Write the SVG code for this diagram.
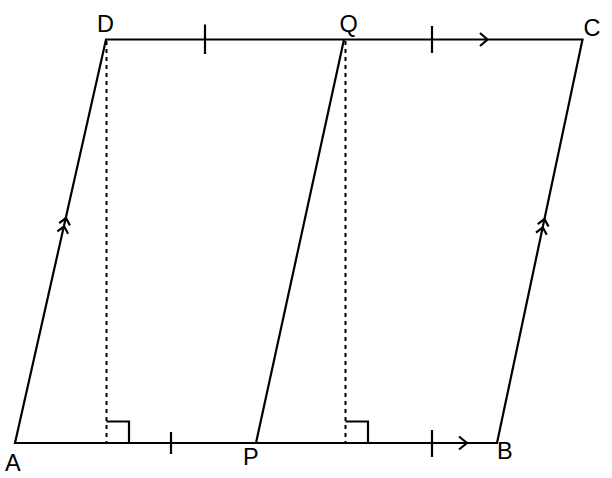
<svg xmlns="http://www.w3.org/2000/svg" width="612" height="478" viewBox="0 0 612 478">
<style>
.ln{stroke:#000;stroke-width:2.2;fill:none;stroke-linecap:butt;stroke-linejoin:miter}
.ds{stroke:#000;stroke-width:2;fill:none;stroke-dasharray:4 4}
.lb{font-family:"Liberation Sans",Arial,sans-serif;font-size:23.5px;fill:#000}
</style>
<g id="connectors">
<path class="ln" d="M15,443 L497,443 L582.5,39.5 L106,39.5 Z"/>
<line id="PQ" class="ln" x1="256" y1="443" x2="344" y2="39.5"/>
<line class="ds" x1="106.5" y1="41" x2="106.5" y2="443"/>
<line class="ds" x1="345.5" y1="41" x2="345.5" y2="443"/>
<path class="ln" d="M106.5,421.5 L129,421.5 L129,443"/>
<path class="ln" d="M345.5,421.5 L368,421.5 L368,443"/>
<line class="ln" x1="171" y1="432" x2="171" y2="454"/>
<line class="ln" x1="432" y1="430" x2="432" y2="457"/>
<line class="ln" x1="205" y1="24.5" x2="205" y2="54"/>
<line class="ln" x1="432" y1="26" x2="432" y2="53"/>
<path class="ln" d="M459,436.5 L467,443 L459,449.5"/>
<path class="ln" d="M480,33 L487.5,39.5 L480,46"/>
<g transform="translate(66,218) rotate(12.7)"><path class="ln" d="M-5.5,6.5 L0,0 L5.5,6.5 M-5.5,15 L0,8.5 L5.5,15"/></g>
<g transform="translate(544.5,219) rotate(12)"><path class="ln" d="M-5.5,6.5 L0,0 L5.5,6.5 M-5.5,15 L0,8.5 L5.5,15"/></g>
</g>
<g id="A"><text class="lb" x="5" y="470.5">A</text></g>
<g id="P"><text class="lb" x="243" y="465">P</text></g>
<g id="B"><text class="lb" x="497" y="459">B</text></g>
<g id="D"><text class="lb" x="97" y="31.5">D</text></g>
<g id="Q"><text class="lb" x="339.5" y="31.5">Q</text></g>
<g id="C"><text class="lb" x="583.5" y="36">C</text></g>
</svg>
